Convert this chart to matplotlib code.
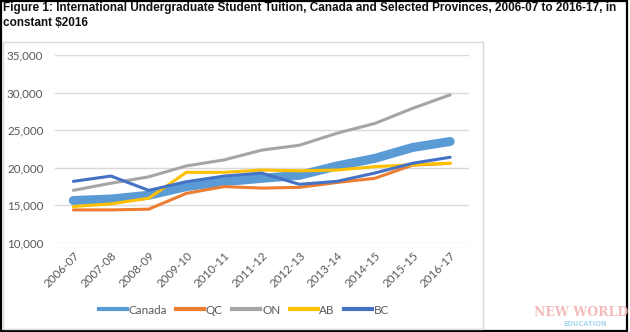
import matplotlib
matplotlib.use("Agg")
import matplotlib.pyplot as plt
from matplotlib.patches import Rectangle
from matplotlib.lines import Line2D

years = ["2006-07", "2007-08", "2008-09", "2009-10", "2010-11", "2011-12",
         "2012-13", "2013-14", "2014-15", "2015-15", "2016-17"]
canada = [15650, 15850, 16350, 17500, 18150, 18600, 19000, 20250, 21250, 22700, 23500]
qc = [14400, 14400, 14500, 16600, 17500, 17300, 17400, 18050, 18600, 20350, 20600]
on = [17000, 17950, 18800, 20250, 21050, 22350, 23000, 24600, 25900, 27900, 29700]
ab = [14850, 15200, 15950, 19400, 19400, 19700, 19600, 19700, 20150, 20400, 20600]
bc = [18200, 18900, 17000, 18150, 18900, 19300, 17800, 18200, 19300, 20600, 21400]
yticks = [10000, 15000, 20000, 25000, 30000, 35000]

W, H = 630, 332
fig = plt.figure(figsize=(W / 100, H / 100), dpi=100)
fig.patch.set_facecolor("white")

def fx(x):
    return x / W

def fy(y):
    return 1 - y / H

# outer black frame
fig.patches.append(Rectangle((fx(0.5), fy(331)), fx(626.5), 330.5 / H, transform=fig.transFigure,
                             fill=False, edgecolor="black", linewidth=1.6, zorder=0))
# chart area box
fig.patches.append(Rectangle((fx(2.5), fy(329)), fx(480), 287 / H, transform=fig.transFigure,
                             fill=False, edgecolor="#d9d9d9", linewidth=1.0, zorder=0))

fig.text(fx(3), fy(2), "Figure 1: International Undergraduate Student Tuition, Canada and Selected Provinces, 2006-07 to 2016-17, in\nconstant $2016",
         ha="left", va="top", fontsize=8.5, fontweight="bold", family="Liberation Sans",
         color="#111111", linespacing=1.28)

ax = fig.add_axes([fx(54.5), fy(243), fx(469 - 54.5), (243 - 55) / H])
x = list(range(len(years)))
ax.plot(x, canada, color="#5B9BD5", linewidth=6.5, solid_capstyle="round", label="Canada", zorder=2)
ax.plot(x, qc, color="#ED7D31", linewidth=2.2, solid_capstyle="round", label="QC", zorder=3)
ax.plot(x, on, color="#A5A5A5", linewidth=2.2, solid_capstyle="round", label="ON", zorder=3)
ax.plot(x, ab, color="#FFC000", linewidth=2.2, solid_capstyle="round", label="AB", zorder=3)
ax.plot(x, bc, color="#4472C4", linewidth=2.2, solid_capstyle="round", label="BC", zorder=3)

ax.set_xlim(-0.5, len(years) - 0.5)
ax.set_ylim(10000, 35000)
ax.set_yticks(yticks)
ax.set_yticklabels([f"{v:,}" for v in yticks])
ax.set_xticks(x)
ax.set_xticklabels(years, rotation=45, ha="right", va="top", rotation_mode="anchor")
for s in ax.spines.values():
    s.set_visible(False)
ax.grid(axis="y", color="#d9d9d9", linewidth=1.0, zorder=0)
ax.set_axisbelow(True)
ax.tick_params(axis="both", length=0, labelsize=8.4, colors="#595959")
ax.tick_params(axis="y", pad=8)
ax.tick_params(axis="x", pad=5)
for lab in ax.get_xticklabels() + ax.get_yticklabels():
    lab.set_family("Lato")

handles = [Line2D([], [], color=c, linewidth=3) for c in ["#5B9BD5", "#ED7D31", "#A5A5A5", "#FFC000", "#4472C4"]]
fig.legend(handles, ["Canada", "QC", "ON", "AB", "BC"], loc="center", bbox_to_anchor=(fx(244), fy(310)),
           ncol=5, frameon=False, prop={"family": "Lato", "size": 8.4}, labelcolor="#595959",
           handlelength=2.4, handletextpad=0.15, columnspacing=0.8)

# watermark
fig.text(fx(581), fy(313), "NEW WORLD", ha="center", va="center", fontsize=9, fontweight="bold",
         family="DejaVu Serif", color="#f3b4b4", alpha=0.9)
fig.text(fx(585), fy(324), "EDUCATION", ha="center", va="center", fontsize=4.8, fontweight="bold",
         family="DejaVu Sans", color="#a9d8ee")

fig.savefig("out.png", dpi=100)
